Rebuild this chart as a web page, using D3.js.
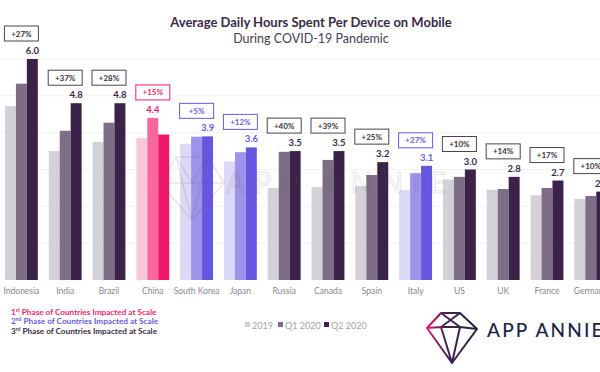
<!DOCTYPE html>
<html>
<head>
<meta charset="utf-8">
<script src="https://cdn.jsdelivr.net/npm/d3@7"></script>
<style>
  body { margin: 0; background: #fff; }
  svg { display: block; font-family: Lato, "Noto Sans", sans-serif; }
</style>
</head>
<body>
<div id="chart"></div>
<script>
// --- data ---
const countries = ["Indonesia", "India", "Brazil", "China", "South Korea", "Japan", "Russia",
  "Canada", "Spain", "Italy", "US", "UK", "France", "Germany"];
const series = ["2019", "Q1 2020", "Q2 2020"];
const hours2019 = [4.72, 3.5, 3.75, 3.85, 3.7, 3.22, 2.5, 2.52, 2.55, 2.44, 2.73, 2.45, 2.3, 2.2];
const hoursQ1 = [5.33, 4.05, 4.27, 4.4, 3.89, 3.47, 3.48, 3.26, 2.85, 2.9, 2.8, 2.47, 2.5, 2.28];
const hoursQ2 = [6.0, 4.8, 4.8, 3.95, 3.9, 3.6, 3.5, 3.5, 3.2, 3.1, 3.0, 2.8, 2.7, 2.4];
const valueLabels = ["6.0", "4.8", "4.8", "4.4", "3.9", "3.6", "3.5", "3.5", "3.2", "3.1", "3.0", "2.8", "2.7", "2.4"];
const growth = ["+27%", "+37%", "+28%", "+15%", "+5%", "+12%", "+40%", "+39%", "+25%", "+27%", "+10%", "+14%", "+17%", "+10%"];
// phase of each country (1 = pink, 2 = purple, 3 = dark)
const phase = [3, 3, 3, 1, 2, 2, 3, 3, 3, 2, 3, 3, 3, 3];
const yTicks = [1, 2, 3, 4, 5, 6];

const palettes = {
  1: ["#fbc5db", "#f7679e", "#f0176b"],
  2: ["#dcd8f7", "#9d93ea", "#6657df"],
  3: ["#d4d0d8", "#7d6d87", "#3b2249"]
};
const phaseText = { 1: "#ef1f6c", 2: "#6a5be0", 3: "#3b2a48" };

const W = 600, H = 372;
const svg = d3.select("#chart").append("svg").attr("width", W).attr("height", H);

const x = d3.scaleBand().domain(countries).range([-0.5, 612.7]).paddingInner(0.25).paddingOuter(0.125);
const xs = d3.scaleBand().domain(series).range([0, x.bandwidth()]);
const y = d3.scaleLinear().domain([0, 6]).range([280, 59]);

// faint gridlines
svg.append("g").selectAll("line").data(yTicks).enter().append("line")
  .attr("x1", 0).attr("x2", W)
  .attr("y1", d => y(d)).attr("y2", d => y(d))
  .attr("stroke", "#f3f2f4").attr("stroke-width", 1);

// title
svg.append("text").attr("x", 311).attr("y", 27).attr("text-anchor", "middle")
  .attr("font-size", 13).attr("font-weight", 700).attr("fill", "#3a2a4a")
  .text("Average Daily Hours Spent Per Device on Mobile");
svg.append("text").attr("x", 311).attr("y", 43).attr("text-anchor", "middle")
  .attr("font-size", 12.5).attr("fill", "#4a3d58")
  .text("During COVID-19 Pandemic");

const rows = countries.map((c, i) => ({
  country: c, phase: phase[i], label: valueLabels[i], growth: growth[i],
  values: [hours2019[i], hoursQ1[i], hoursQ2[i]]
}));

const groups = svg.selectAll(".grp").data(rows).enter().append("g")
  .attr("class", "grp")
  .attr("transform", d => `translate(${x(d.country)},0)`);

groups.selectAll("rect").data(d => d.values.map((v, k) => ({ v, k, phase: d.phase })))
  .enter().append("rect")
  .attr("x", d => xs(series[d.k]))
  .attr("width", xs.bandwidth())
  .attr("y", d => y(d.v))
  .attr("height", d => y(0) - y(d.v))
  .attr("fill", d => palettes[d.phase][d.k]);

// value label above the tallest bar
groups.append("text")
  .attr("x", d => { const k = d.values.indexOf(d3.max(d.values)); return xs(series[k]) + xs.bandwidth() / 2; })
  .attr("y", d => y(d3.max(d.values)) - 5)
  .attr("text-anchor", "middle").attr("font-size", 9.5).attr("font-weight", 700)
  .attr("fill", d => phaseText[d.phase])
  .text(d => d.label);

// growth boxes
const boxW = 34, boxH = 15;
groups.append("rect")
  .attr("x", x.bandwidth() / 2 - boxW / 2)
  .attr("y", d => y(d3.max(d.values)) - 18 - boxH)
  .attr("width", boxW).attr("height", boxH)
  .attr("fill", "#fff").attr("stroke", d => d.phase === 3 ? "#4a4450" : phaseText[d.phase])
  .attr("stroke-width", 1);
groups.append("text")
  .attr("x", x.bandwidth() / 2)
  .attr("y", d => y(d3.max(d.values)) - 18 - boxH / 2 + 3)
  .attr("text-anchor", "middle").attr("font-size", 8).attr("font-weight", 700)
  .attr("fill", d => d.phase === 3 ? "#3a3340" : phaseText[d.phase])
  .text(d => d.growth);

// category labels
groups.append("text")
  .attr("x", x.bandwidth() / 2).attr("y", 294)
  .attr("text-anchor", "middle").attr("font-size", 8.5).attr("fill", "#8a8590")
  .text(d => d.country);

// watermark
const wm = svg.append("g").attr("opacity", 0.13).attr("fill", "none").attr("stroke", "#555").attr("stroke-width", 1.5);
wm.append("path").attr("d", "M160,183 L176,157 L208,157 L224,183 L192,220 Z M160,183 L224,183 M176,157 L192,183 L208,157 M176,157 L192,220 L208,157");
wm.append("text").attr("x", 226).attr("y", 193).attr("font-size", 28)
  .attr("textLength", 220).attr("lengthAdjust", "spacing")
  .attr("stroke-width", 1.2).text("APP ANNIE");

// phase legend
const phaseLines = [
  { n: "1", sup: "st", c: phaseText[1] },
  { n: "2", sup: "nd", c: phaseText[2] },
  { n: "3", sup: "rd", c: phaseText[3] }
];
phaseLines.forEach((p, i) => {
  const t = svg.append("text").attr("x", 11).attr("y", 315 + i * 9.3)
    .attr("font-size", 8.2).attr("font-weight", 700).attr("fill", p.c);
  t.append("tspan").text(p.n);
  t.append("tspan").attr("font-size", 5).attr("dy", -3).text(p.sup);
  t.append("tspan").attr("dy", 3).text(" Phase of Countries Impacted at Scale");
});

// series legend
const legX = [245, 278, 324];
series.forEach((s, k) => {
  svg.append("rect").attr("x", legX[k]).attr("y", 322).attr("width", 5).attr("height", 5)
    .attr("fill", palettes[3][k]);
  svg.append("text").attr("x", legX[k] + 7).attr("y", 328.5)
    .attr("font-size", 9).attr("fill", "#a5a1a9").text(s);
});

// logo
const defs = svg.append("defs");
const grad = defs.append("linearGradient").attr("id", "logoGrad").attr("x1", "0").attr("x2", "1").attr("y1", "0").attr("y2", "0");
grad.append("stop").attr("offset", "0%").attr("stop-color", "#f0176b");
grad.append("stop").attr("offset", "35%").attr("stop-color", "#4a2150");
grad.append("stop").attr("offset", "100%").attr("stop-color", "#1b2444");
svg.append("path")
  .attr("d", "M427,328 L441,313 L460,313 L477,329 L452,363 Z M441,313 L460,327 M460,313 L441,327 M427,328 L441,327 L460,327 L477,329 M441,327 L452,363 L460,327")
  .attr("fill", "none").attr("stroke", "url(#logoGrad)").attr("stroke-width", 2).attr("stroke-linejoin", "round");
svg.append("text").attr("x", 487).attr("y", 337).attr("font-size", 19).attr("letter-spacing", 2.2)
  .attr("font-weight", 500).attr("fill", "#1b2444").text("APP ANNIE");
</script>
</body>
</html>
